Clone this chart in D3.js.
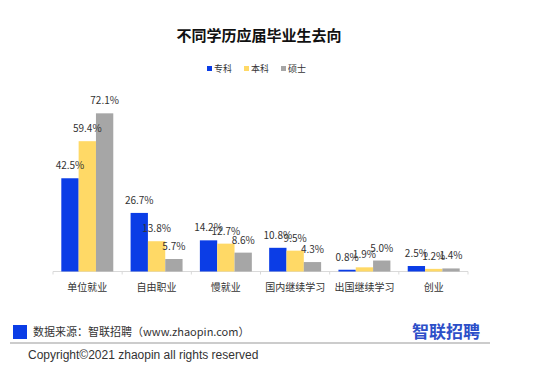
<!DOCTYPE html>
<html>
<head>
<meta charset="utf-8">
<script src="https://cdn.jsdelivr.net/npm/d3@7"></script>
<style>
  body { margin: 0; background: #fff; }
  svg { font-family: "Noto Sans CJK SC", "Microsoft YaHei", sans-serif; }
</style>
</head>
<body>
<div id="chart"></div>
<script>
// data
var categories = ["单位就业", "自由职业", "慢就业", "国内继续学习", "出国继续学习", "创业"];
var seriesNames = ["专科", "本科", "硕士"];
var zhuanke = [42.5, 26.7, 14.2, 10.8, 0.8, 2.5];
var benke = [59.4, 13.8, 12.7, 9.5, 1.9, 1.2];
var shuoshi = [72.1, 5.7, 8.6, 4.3, 5.0, 1.4];
var colors = ["#0b3de6", "#ffd966", "#a6a6a6"];

var width = 540, height = 386;

var svg = d3.select("#chart").append("svg")
    .attr("width", width)
    .attr("height", height);

// title
svg.append("text")
    .attr("x", 259)
    .attr("y", 41)
    .attr("text-anchor", "middle")
    .style("font-size", "15px")
    .style("font-weight", "bold")
    .attr("fill", "#111")
    .text("不同学历应届毕业生去向");

// legend
var legendX = [207, 244, 281];
seriesNames.forEach(function(name, i) {
    var g = svg.append("g").attr("transform", "translate(" + legendX[i] + ",69)");
    g.append("rect").attr("x", 0).attr("y", -3).attr("width", 5).attr("height", 5).attr("fill", colors[i]);
    g.append("text").attr("x", 7).attr("y", 3).style("font-size", "9px").attr("fill", "#333").text(name);
});

// scales
var x = d3.scaleBand()
    .domain(categories)
    .range([53, 468])
    .paddingInner(0.25)
    .paddingOuter(0.12);

var xSub = d3.scaleBand()
    .domain(seriesNames)
    .range([0, x.bandwidth()]);

var y = d3.scaleLinear()
    .domain([0, 80])
    .range([271.5, 96]);

var rows = categories.map(function(c, i) {
    return { cat: c, values: [zhuanke[i], benke[i], shuoshi[i]] };
});

// axis line + small ticks between groups
svg.append("line")
    .attr("x1", 53).attr("x2", 468)
    .attr("y1", y(0)).attr("y2", y(0))
    .attr("stroke", "#d9d9d9");

var step = (468 - 53) / categories.length;
d3.range(categories.length + 1).forEach(function(i) {
    svg.append("line")
        .attr("x1", 53 + i * step).attr("x2", 53 + i * step)
        .attr("y1", y(0)).attr("y2", y(0) + 3)
        .attr("stroke", "#d9d9d9");
});

// bars
var groups = svg.selectAll(".group")
    .data(rows)
    .enter().append("g")
    .attr("class", "group")
    .attr("transform", function(d) { return "translate(" + x(d.cat) + ",0)"; });

groups.selectAll("rect")
    .data(function(d) { return d.values.map(function(v, i) { return { s: seriesNames[i], v: v, i: i }; }); })
    .enter().append("rect")
    .attr("x", function(d) { return xSub(d.s); })
    .attr("y", function(d) { return y(d.v); })
    .attr("width", xSub.bandwidth())
    .attr("height", function(d) { return y(0) - y(d.v); })
    .attr("fill", function(d) { return colors[d.i]; });

// value labels
groups.selectAll(".val")
    .data(function(d) { return d.values.map(function(v, i) { return { s: seriesNames[i], v: v, i: i }; }); })
    .enter().append("text")
    .attr("class", "val")
    .attr("x", function(d) { return xSub(d.s) + xSub.bandwidth() / 2; })
    .attr("y", function(d) { return y(d.v) - 9; })
    .attr("text-anchor", "middle")
    .style("font-size", "10px")
    .attr("fill", "#333")
    .text(function(d) { return d.v.toFixed(1) + "%"; });

// category labels
svg.selectAll(".cat")
    .data(categories)
    .enter().append("text")
    .attr("class", "cat")
    .attr("x", function(d) { return x(d) + x.bandwidth() / 2; })
    .attr("y", 291)
    .attr("text-anchor", "middle")
    .style("font-size", "10px")
    .attr("fill", "#333")
    .text(function(d) { return d; });

// footer
svg.append("rect").attr("x", 13).attr("y", 325).attr("width", 14).attr("height", 14).attr("fill", "#0b3de6");
svg.append("text")
    .attr("x", 33).attr("y", 336)
    .style("font-size", "11px")
    .attr("fill", "#333")
    .text("数据来源：智联招聘（www.zhaopin.com）");

svg.append("line")
    .attr("x1", 10).attr("x2", 490)
    .attr("y1", 343).attr("y2", 343)
    .attr("stroke", "#999");

svg.append("text")
    .attr("x", 480).attr("y", 338)
    .attr("text-anchor", "end")
    .style("font-size", "17px")
    .style("font-weight", "bold")
    .attr("fill", "#2d4fc8")
    .text("智联招聘");

svg.append("text")
    .attr("x", 28).attr("y", 359)
    .style("font-family", "'Liberation Sans', 'DejaVu Sans', sans-serif")
    .style("font-size", "12px")
    .attr("fill", "#333")
    .text("Copyright©2021 zhaopin all rights reserved");
</script>
</body>
</html>
